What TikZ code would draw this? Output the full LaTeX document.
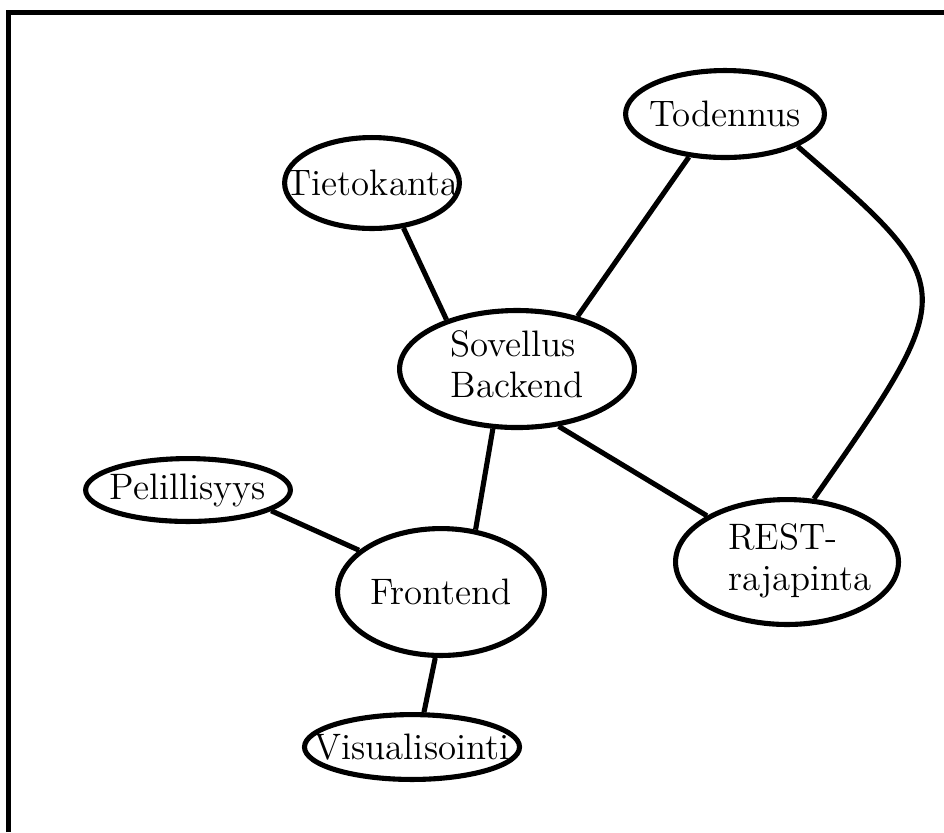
\documentclass[tikz,border=0pt]{standalone}
\usetikzlibrary{shapes.geometric}

\newcommand{\nowidth}[1]{\makebox[0pt]{#1}}
\newcommand{\twolines}[2]{\begin{tabular}{@{}l@{}}#1\\#2\end{tabular}}

\begin{document}
\begin{tikzpicture}[x=0.353pt,y=-0.353pt,
  bubble/.style={draw,ellipse,line width=1.8pt,inner sep=0pt,
    font=\fontsize{13}{14.5}\selectfont},
  link/.style={line width=1.8pt}]

\useasboundingbox (0,0) rectangle (944,832);

% frame, only top and left edge inside the page
\draw[line width=1.8pt] (8.5,832) |- (944,12.5);

\node[bubble,minimum width=70.2pt,minimum height=30.7pt] (todennus) at (725,114) {\nowidth{Todennus}};
\node[bubble,minimum width=61.7pt,minimum height=32.1pt] (tietokanta) at (372,183) {\nowidth{Tietokanta}};
\node[bubble,minimum width=82.9pt,minimum height=41.3pt] (backend) at (517,369) {\nowidth{\twolines{Sovellus}{Backend}}};
\node[bubble,minimum width=78.7pt,minimum height=44.1pt] (rest) at (787,562) {\nowidth{\hspace{9pt}\twolines{REST-}{rajapinta}}};
\node[bubble,minimum width=72.3pt,minimum height=22.2pt] (pelillisyys) at (188,490) {\nowidth{Pelillisyys}};
\node[bubble,minimum width=73.0pt,minimum height=44.8pt] (frontend) at (441,592) {\nowidth{Frontend}};
\node[bubble,minimum width=75.9pt,minimum height=22.9pt] (visualisointi) at (412,747) {\nowidth{Visualisointi}};

\draw[link] (tietokanta.-55) -- (backend.145);
\draw[link] (todennus.-130) -- (backend.41);
\draw[link] (todennus.-24) .. controls (961,288) .. (rest.67);
\draw[link] (backend.-54) -- (rest.150);
\draw[link] (backend.-112) -- (frontend.61);
\draw[link] (pelillisyys.-14) -- (frontend.153);
\draw[link] (frontend.-95) -- (visualisointi.71);

\end{tikzpicture}
\end{document}
